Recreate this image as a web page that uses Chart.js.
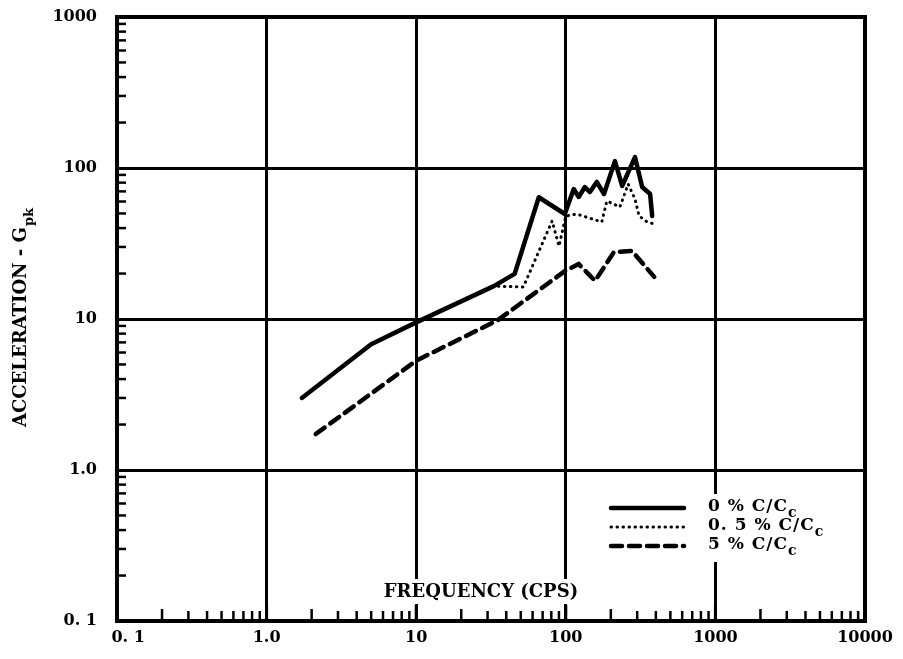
<!DOCTYPE html>
<html>
<head>
<meta charset="utf-8">
<script src="https://cdn.jsdelivr.net/npm/chart.js@4/dist/chart.umd.min.js"></script>
<style>
html,body{margin:0;padding:0;background:#fff;}
#wrap{width:903px;height:659px;}
</style>
</head>
<body>
<div id="wrap"><canvas id="c" width="903" height="659"></canvas></div>
<script>
// ---- data ----
const freqTickValues = [0.1, 1, 10, 100, 1000, 10000];
const freqTickLabels = ['    0. 1', '1.0', '10', '100', '1000', '10000'];
const accTickValues = [0.1, 1, 10, 100, 1000];
const accTickLabels = ['0. 1', '1.0', '10', '100', '1000'];

const seriesNames = ['0 % C/C', '0. 5 % C/C', '5 % C/C'];

const freq0 = [1.72, 5.0, 10, 33, 45.5, 66, 98.5, 113, 122, 134, 145, 161, 180, 213, 238, 290, 324, 366, 378];
const acc0  = [3.0, 6.8, 9.5, 16.5, 19.9, 64, 49.6, 72.6, 64.3, 74.8, 69.3, 80.8, 67.3, 111, 76, 118, 74.8, 67.3, 48.1];

const freq05 = [1.72, 5.0, 10, 33, 52, 81, 90, 100, 118, 174, 188, 230, 261, 290, 309, 350, 390];
const acc05  = [3.0, 6.8, 9.5, 16.5, 16.3, 44.6, 30.4, 48, 49.6, 43.9, 60.4, 55.2, 78.3, 62.3, 48.1, 43.9, 42.6];

const freq5 = [2.13, 10, 35, 100, 122, 157, 210, 277, 390];
const acc5  = [1.73, 5.3, 9.8, 21, 23.1, 17.9, 27.8, 28.2, 19.0];

const minorMult = [2, 3, 4, 5, 6, 7, 8, 9];

const FONT = '"DejaVu Serif", "Liberation Serif", serif';

function pts(fx, fy) { return fx.map((f, i) => ({ x: f, y: fy[i] })); }

const LEG_X0 = 611, LEG_X1 = 684, LEG_TX = 708;
const LEG_ROWS = [508, 527, 546];

const decorPlugin = {
  id: 'decor',
  beforeDatasetsDraw(chart) {
    const ctx = chart.ctx, a = chart.chartArea;
    const xs = chart.scales.x, ys = chart.scales.y;
    ctx.save();
    ctx.strokeStyle = '#000';
    ctx.lineWidth = 2.5;
    // minor ticks on left axis (pointing inward)
    for (let d = -1; d < 3; d++) {
      for (const m of minorMult) {
        const py = ys.getPixelForValue(m * Math.pow(10, d));
        ctx.beginPath(); ctx.moveTo(a.left, py); ctx.lineTo(a.left + 9, py); ctx.stroke();
      }
    }
    // x-axis title with white gap behind it
    ctx.font = 'bold 18px ' + FONT;
    ctx.textAlign = 'center'; ctx.textBaseline = 'middle';
    const title = 'FREQUENCY (CPS)';
    const tw = ctx.measureText(title).width;
    const cx = 481, cy = 592;
    ctx.fillStyle = '#fff';
    ctx.fillRect(cx - tw / 2 - 30, cy - 13, tw + 60, 25);
    ctx.fillStyle = '#000';
    ctx.fillText(title, cx, cy);
    // white area behind legend
    ctx.fillStyle = '#fff';
    ctx.fillRect(LEG_TX - 10, LEG_ROWS[0] - 14, 140, LEG_ROWS[2] - LEG_ROWS[0] + 30);
    // minor ticks on bottom axis (pointing upward)
    for (let d = -1; d < 4; d++) {
      for (const m of minorMult) {
        const px = xs.getPixelForValue(m * Math.pow(10, d));
        const len = m === 2 ? 12 : 10;
        ctx.beginPath(); ctx.moveTo(px, a.bottom); ctx.lineTo(px, a.bottom - len); ctx.stroke();
      }
    }
    // major gridline stubs at bottom
    ctx.lineWidth = 3;
    for (const v of freqTickValues) {
      const px = xs.getPixelForValue(v);
      ctx.beginPath(); ctx.moveTo(px, a.bottom); ctx.lineTo(px, a.bottom - 16); ctx.stroke();
    }
    ctx.restore();
  },
  afterDraw(chart) {
    const ctx = chart.ctx, a = chart.chartArea;
    ctx.save();
    // frame
    ctx.strokeStyle = '#000';
    ctx.lineWidth = 4;
    ctx.strokeRect(a.left, a.top, a.right - a.left, a.bottom - a.top);
    // y-axis title with subscript
    ctx.translate(21, 318);
    ctx.rotate(-Math.PI / 2);
    ctx.fillStyle = '#000';
    ctx.textBaseline = 'middle';
    ctx.textAlign = 'left';
    const main = 'ACCELERATION - G';
    ctx.font = 'bold 18px ' + FONT;
    const mw = ctx.measureText(main).width;
    ctx.font = 'bold 13px ' + FONT;
    const sw = ctx.measureText('pk').width;
    const start = -(mw + sw) / 2;
    ctx.font = 'bold 18px ' + FONT;
    ctx.fillText(main, start, 0);
    ctx.font = 'bold 13px ' + FONT;
    ctx.fillText('pk', start + mw + 1, 9);
    ctx.restore();

    // legend
    ctx.save();
    chart.data.datasets.forEach((ds, i) => {
      const y = LEG_ROWS[i];
      ctx.strokeStyle = '#000';
      ctx.lineWidth = ds.borderWidth;
      ctx.lineCap = ds.borderCapStyle || 'butt';
      ctx.setLineDash(ds.borderDash || []);
      ctx.beginPath(); ctx.moveTo(LEG_X0, y); ctx.lineTo(LEG_X1, y); ctx.stroke();
      ctx.setLineDash([]);
      ctx.fillStyle = '#000';
      ctx.textAlign = 'left'; ctx.textBaseline = 'middle';
      ctx.font = 'bold 17px ' + FONT;
      ctx.letterSpacing = '1px';
      ctx.fillText(seriesNames[i], LEG_TX, y - 1);
      const w = ctx.measureText(seriesNames[i]).width;
      ctx.font = 'bold 14px ' + FONT;
      ctx.fillText('c', LEG_TX + w, y + 5);
      ctx.letterSpacing = '0px';
    });
    ctx.restore();
  }
};

new Chart(document.getElementById('c'), {
  type: 'line',
  data: {
    datasets: [
      { label: seriesNames[0], data: pts(freq0, acc0), borderColor: '#000', borderWidth: 4.5, pointRadius: 0, tension: 0, borderJoinStyle: 'round', borderCapStyle: 'round' },
      { label: seriesNames[1], data: pts(freq05, acc05), borderColor: '#000', borderWidth: 3, borderDash: [0.5, 5.5], borderCapStyle: 'round', pointRadius: 0, tension: 0 },
      { label: seriesNames[2], data: pts(freq5, acc5), borderColor: '#000', borderWidth: 4.5, borderDash: [11, 7], borderCapStyle: 'round', pointRadius: 0, tension: 0 }
    ]
  },
  options: {
    responsive: false,
    animation: false,
    layout: { padding: { top: 17, right: 38, left: 0, bottom: 0 } },
    plugins: { legend: { display: false }, tooltip: { enabled: false } },
    scales: {
      x: {
        type: 'logarithmic', min: 0.1, max: 10000, position: 'bottom',
        afterBuildTicks: s => { s.ticks = freqTickValues.map(v => ({ value: v })); },
        afterFit: s => { s.height = 38; s.paddingLeft = 0; s.paddingRight = 0; },
        ticks: { autoSkip: false, maxRotation: 0, padding: 7, color: '#000',
          font: { family: FONT, size: 16, weight: 'bold' },
          callback: (v, i) => freqTickLabels[i] },
        grid: { color: '#000', lineWidth: 3, drawTicks: false },
        border: { display: false }
      },
      y: {
        type: 'logarithmic', min: 0.1, max: 1000, position: 'left',
        afterBuildTicks: s => { s.ticks = accTickValues.map(v => ({ value: v })); },
        afterFit: s => { s.width = 117; s.paddingTop = 0; s.paddingBottom = 0; },
        ticks: { autoSkip: false, padding: 20, color: '#000',
          font: { family: FONT, size: 16, weight: 'bold' },
          callback: (v, i) => accTickLabels[i] },
        grid: { color: '#000', lineWidth: 3, drawTicks: false },
        border: { display: false }
      }
    }
  },
  plugins: [decorPlugin]
});
</script>
</body>
</html>
